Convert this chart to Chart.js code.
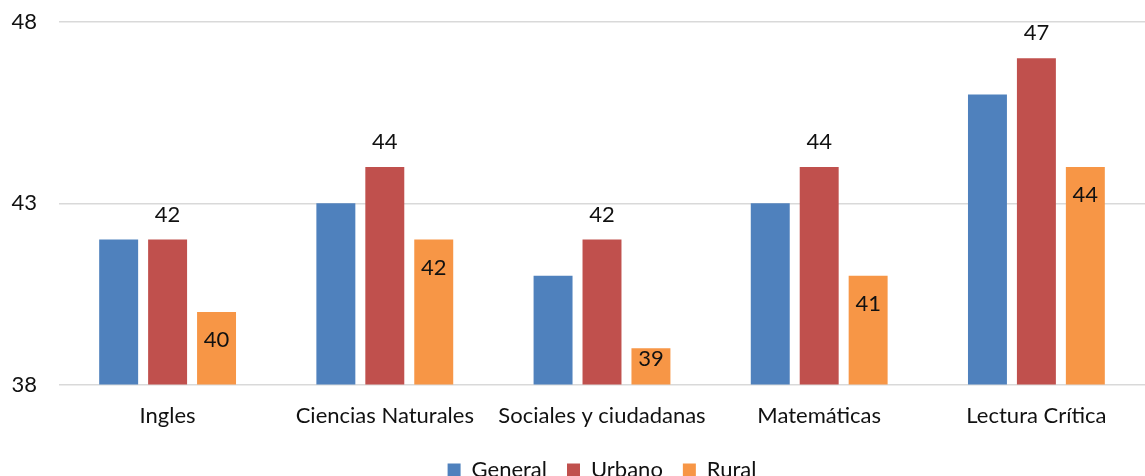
<!DOCTYPE html>
<html>
<head>
<meta charset="utf-8">
<script src="https://cdn.jsdelivr.net/npm/chart.js@4/dist/chart.umd.min.js"></script>
<style>
    html, body { margin: 0; padding: 0; background: #fff; overflow: hidden; }
    #wrap { width: 1145px; height: 491px; position: relative; }
</style>
</head>
<body>
<div id="wrap"><canvas id="chart"></canvas></div>
<script>
// categories and series
var categories = ['Ingles', 'Ciencias Naturales', 'Sociales y ciudadanas', 'Matemáticas', 'Lectura Crítica'];
var general = [42, 43, 41, 43, 46];
var urbano = [42, 44, 42, 44, 47];
var rural = [40, 42, 39, 41, 44];
var yTicks = [38, 43, 48];

var FONT = 'Lato, "Open Sans", sans-serif';
var FS = 22;

// value labels: Urbano above the bar, Rural inside the top of the bar
var valueLabels = {
    id: 'valueLabels',
    afterDatasetsDraw: function (chart) {
        var ctx = chart.ctx;
        var bottom = chart.chartArea.bottom;
        ctx.save();
        ctx.font = FS + 'px ' + FONT;
        ctx.fillStyle = '#111';
        ctx.textAlign = 'center';
        ctx.textBaseline = 'middle';
        [1, 2].forEach(function (di) {
            var meta = chart.getDatasetMeta(di);
            var data = chart.data.datasets[di].data;
            meta.data.forEach(function (bar, i) {
                var y = di == 1 ? bar.y - 25 : Math.min(bar.y + 28, bottom - 26);
                ctx.fillText(String(data[i]), bar.x, y);
            });
        });
        ctx.restore();
    }
};

new Chart(document.getElementById('chart'), {
    type: 'bar',
    data: {
        labels: categories,
        datasets: [
            {label: 'General', data: general, backgroundColor: '#4F81BD'},
            {label: 'Urbano', data: urbano, backgroundColor: '#C0504D'},
            {label: 'Rural', data: rural, backgroundColor: '#F79646'}
        ]
    },
    options: {
        responsive: true,
        maintainAspectRatio: false,
        animation: false,
        datasets: {
            bar: {categoryPercentage: 0.676, barPercentage: 0.796}
        },
        layout: {padding: {top: 22, right: 0, left: 0, bottom: 0}},
        plugins: {
            tooltip: {enabled: false},
            legend: {
                position: 'bottom',
                fullSize: false,
                labels: {
                    boxWidth: 13,
                    boxHeight: 13,
                    padding: 20,
                    color: '#111',
                    font: {family: FONT, size: FS}
                }
            }
        },
        scales: {
            x: {
                grid: {display: false},
                border: {display: false},
                ticks: {color: '#111', font: {family: FONT, size: FS}, padding: 10, maxRotation: 0}
            },
            y: {
                min: 38,
                max: 48,
                afterBuildTicks: function (scale) {
                    scale.ticks = yTicks.map(function (v) { return {value: v}; });
                },
                afterFit: function (scale) {
                    scale.width = 59;
                    scale.paddingTop = 0;
                    scale.paddingBottom = 0;
                },
                grid: {color: '#d9d9d9', lineWidth: 1.5, drawTicks: false},
                border: {display: false},
                ticks: {color: '#111', font: {family: FONT, size: FS}, padding: 22}
            }
        }
    },
    plugins: [valueLabels]
});
</script>
</body>
</html>
